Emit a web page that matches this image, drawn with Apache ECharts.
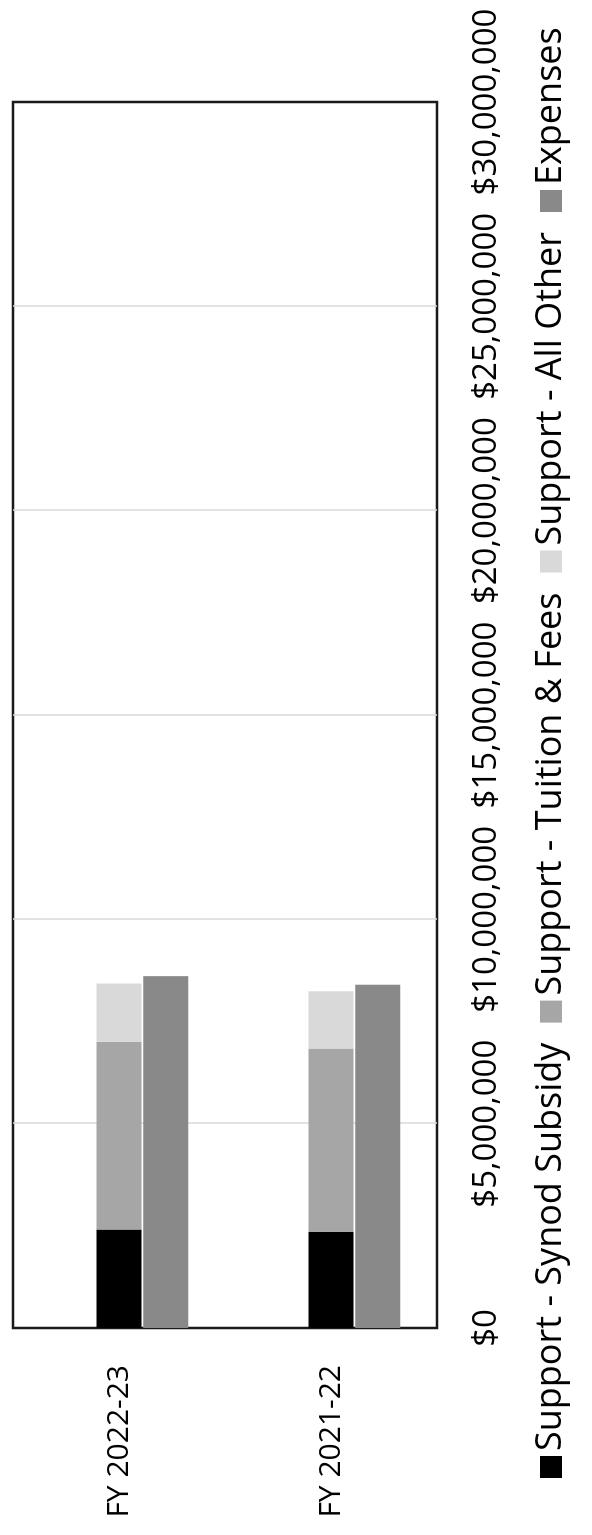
<!DOCTYPE html>
<html>
<head>
<meta charset="utf-8">
<script src="https://cdn.jsdelivr.net/npm/echarts@6/dist/echarts.min.js"></script>
<style>
  html, body { margin: 0; padding: 0; width: 592px; height: 1535px; overflow: hidden; background: #ffffff; }
  #chart {
    position: absolute; left: 0; top: 0;
    width: 1535px; height: 592px;
    transform-origin: 0 0;
    transform: translateY(1535px) rotate(-90deg);
  }
</style>
</head>
<body>
<div id="chart"></div>
<script>
// Data
const categories = ['FY 2022-23', 'FY 2021-22'];
const synodSubsidy = [2410000, 2350000];
const tuitionFees = [4590000, 4490000];
const allOther = [1430000, 1400000];
const expenses = [8610000, 8400000];
const valueTicks = [0, 5000000, 10000000, 15000000, 20000000, 25000000, 30000000];

const seriesNames = ['Support - Synod Subsidy', 'Support - Tuition & Fees', 'Support - All Other', 'Expenses'];
const FONT = '"Open Sans", "Noto Sans", sans-serif';

const chart = echarts.init(document.getElementById('chart'), null, { renderer: 'canvas' });

const barW = 45;
const barGap = '4%';

chart.setOption({
  animation: false,
  backgroundColor: '#ffffff',
  textStyle: { fontFamily: FONT, color: '#000000' },
  grid: {
    left: 207, top: 13, width: 1226, height: 424,
    show: true, borderColor: '#1a1a1a', borderWidth: 2.5, backgroundColor: 'transparent',
    containLabel: false
  },
  legend: {
    data: seriesNames,
    orient: 'horizontal',
    left: 57, right: 0, top: 533,
    padding: 0,
    itemGap: 20,
    itemWidth: 22, itemHeight: 22,
    icon: 'rect',
    textStyle: { fontFamily: FONT, fontSize: 36, color: '#000000' }
  },
  xAxis: {
    type: 'value',
    min: valueTicks[0], max: valueTicks[valueTicks.length - 1], interval: 5000000,
    axisLine: { show: false },
    axisTick: { show: false },
    splitLine: { show: true, showMinLine: false, showMaxLine: false, lineStyle: { color: '#d9d9d9', width: 1.5 } },
    axisLabel: {
      fontFamily: FONT, fontSize: 33, color: '#000000', margin: 33,
      formatter: function (v) { return '$' + v.toLocaleString('en-US'); }
    }
  },
  yAxis: {
    type: 'category',
    data: categories,
    inverse: true,
    axisLine: { show: false },
    axisTick: { show: false },
    splitLine: { show: false },
    axisLabel: { fontFamily: FONT, fontSize: 30, color: '#000000', margin: 37 }
  },
  series: [
    { name: 'spacer', type: 'bar', stack: 'spacer', data: [], barWidth: barW, barGap: barGap },
    { name: seriesNames[0], type: 'bar', stack: 'support', data: synodSubsidy, barWidth: barW, barGap: barGap,
      itemStyle: { color: '#000000' } },
    { name: seriesNames[1], type: 'bar', stack: 'support', data: tuitionFees, barWidth: barW, barGap: barGap,
      itemStyle: { color: '#a6a6a6' } },
    { name: seriesNames[2], type: 'bar', stack: 'support', data: allOther, barWidth: barW, barGap: barGap,
      itemStyle: { color: '#d9d9d9' } },
    { name: seriesNames[3], type: 'bar', stack: 'exp', data: expenses, barWidth: barW, barGap: barGap,
      itemStyle: { color: '#898989' } }
  ]
});
</script>
</body>
</html>
